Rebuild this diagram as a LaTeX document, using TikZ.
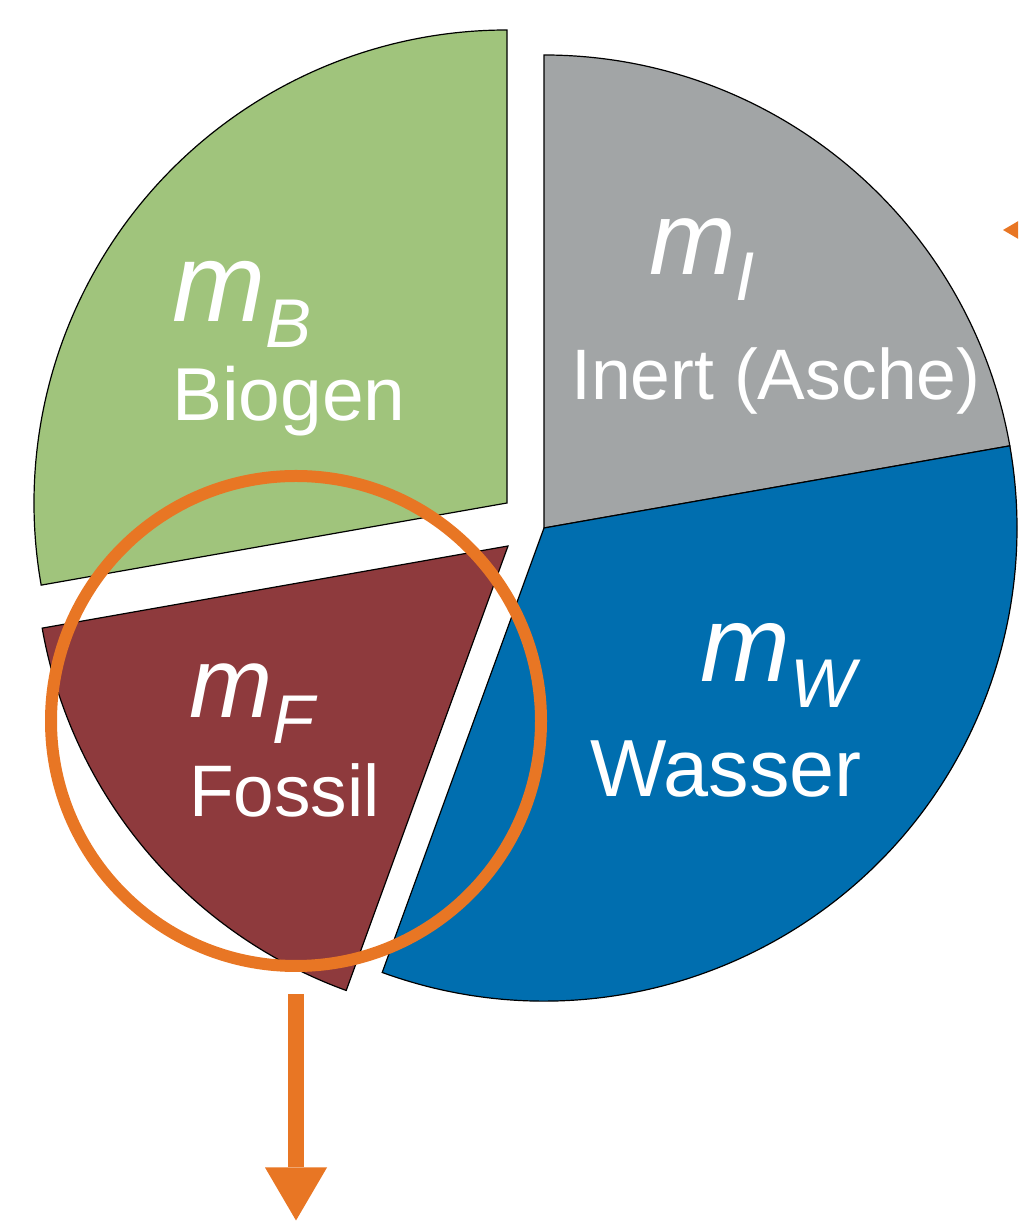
\documentclass[tikz,border=0pt]{standalone}
\usepackage{fontspec}
\setmainfont{Liberation Sans}
\usetikzlibrary{arrows.meta, positioning}

\definecolor{biogreen}{RGB}{160,196,124}
\definecolor{inertgray}{RGB}{162,165,166}
\definecolor{waterblue}{RGB}{0,110,175}
\definecolor{fossilred}{RGB}{142,58,61}
\definecolor{floworange}{RGB}{232,118,36}

% Masse mit Index, z.B. m_B
\newcommand{\massterm}[2][106]{{\fontsize{#1}{#1}\selectfont\itshape m}\raisebox{-26pt}{\fontsize{69}{69}\selectfont\itshape #2}}

\begin{document}
\begin{tikzpicture}[
    x=1pt, y=1pt,
    every node/.style={inner sep=0pt, text=white},
    sector/.style={draw=black, line width=1.2pt, line join=miter},
    sym/.style={anchor=base west},
    word/.style={anchor=base west, font=\fontsize{75}{80}\selectfont},
    ring/.style={circle, draw=floworange, line width=12pt, minimum size=490pt},
    flow/.style={draw=floworange, line width=16pt, -{Triangle[width=62pt, length=53pt, line width=0pt]}, floworange}
]
\clip (0,0) rectangle (1018,1221);

% Mittelpunkte der Segmente
\coordinate (c)  at (544,693);
\coordinate (cb) at (507,718);
\coordinate (cf) at (508,675);

\draw[sector, fill=inertgray] (c) -- ++(10:473) arc[start angle=10, end angle=90, radius=473] -- cycle;
\draw[sector, fill=waterblue] (c) -- ++(-110:473) arc[start angle=-110, end angle=10, radius=473] -- cycle;
\draw[sector, fill=biogreen] (cb) -- ++(90:473) arc[start angle=90, end angle=190, radius=473] -- cycle;
\draw[sector, fill=fossilred] (cf) -- ++(190:473) arc[start angle=190, end angle=250, radius=473] -- cycle;

% Beschriftungen
\node[sym] (mB) at (172,899) {\massterm[112]{B}};
\node[word] (biogen) at (172,800) {Biogen};
\node[sym] (mI) at (649,946) {\massterm[104]{I}};
\node[word, font=\fontsize{71.5}{80}\selectfont] (inert) at (571,821) {Inert (Asche)};
\node[sym] (mF) at (189,503) {\massterm[100]{F}};
\node[word, font=\fontsize{73}{80}\selectfont] (fossil) at (189,404) {Fossil};
\node[sym] (mW) at (700,539) {\massterm[108]{W}};
\node[word, font=\fontsize{81}{80}\selectfont] (wasser) at (590,424) {Wasser};

% Markierung und Pfeile
\node[ring] (fossilring) at (296,500) {};
\coordinate (outlet) at (296,0.5);
\draw[flow] ([yshift=-22pt]fossilring.south) -- (outlet);

\coordinate (feedin) at (1003,991);
\coordinate (feedsrc) at (1120,991);
\draw[flow] (feedsrc) -- (feedin);

\end{tikzpicture}
\end{document}
